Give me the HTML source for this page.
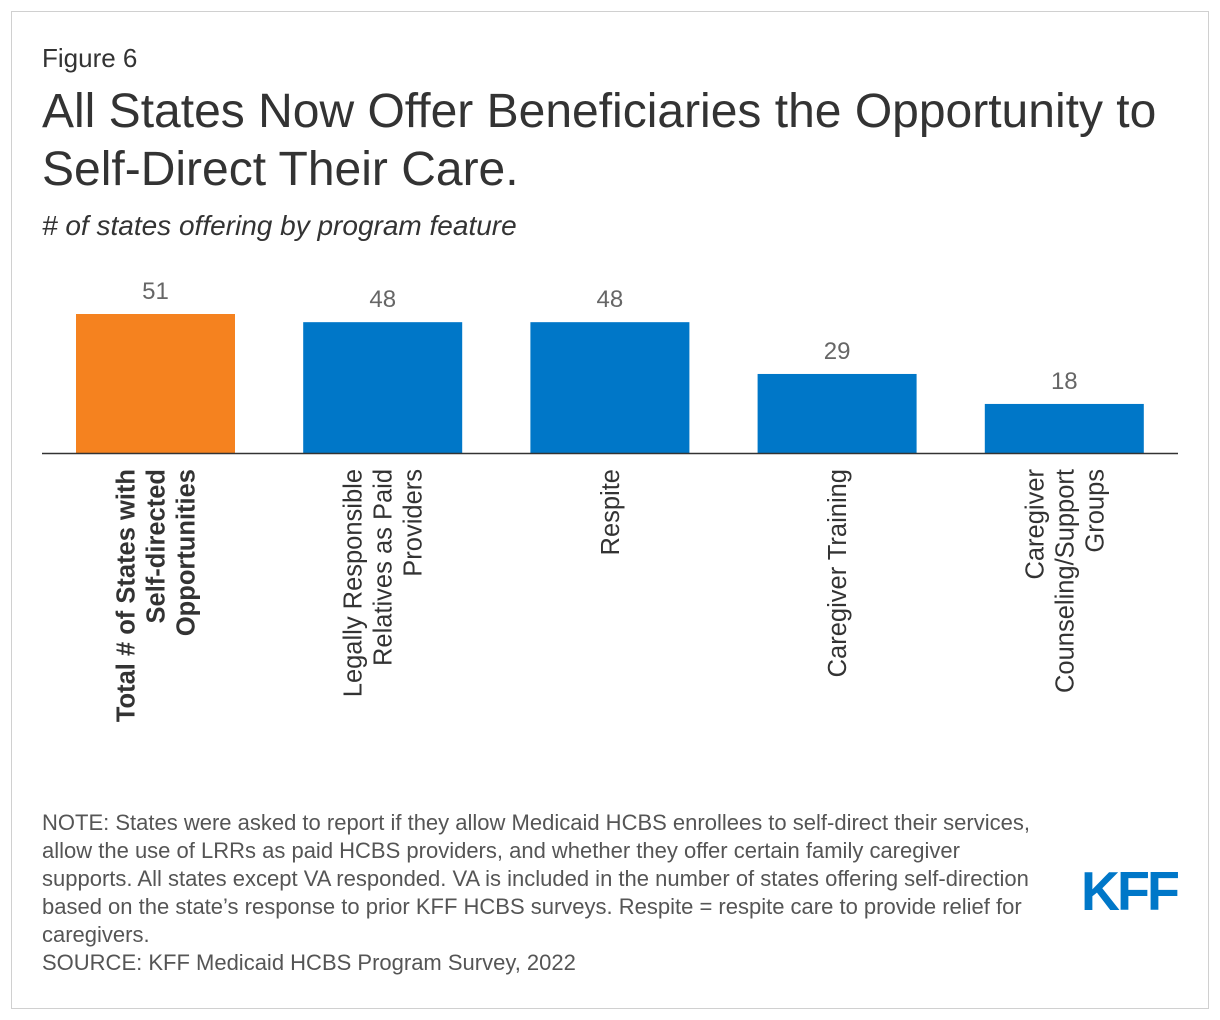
<!DOCTYPE html>
<html><head><meta charset="utf-8"><style>
body{margin:0;background:#fff;font-family:"Liberation Sans",Arial,sans-serif;}
#frame{position:absolute;left:11px;top:11px;width:1198px;height:998px;border:1px solid #d0d0d0;box-sizing:border-box;}
.t{position:absolute;left:42px;color:#333;white-space:nowrap;}
</style></head><body>
<div id="frame"></div>
<div class="t" style="top:43px;font-size:26px;">Figure 6</div>
<div class="t" style="top:83px;font-size:48px;line-height:58px;color:#333;">All States Now Offer Beneficiaries the Opportunity to<br>Self-Direct Their Care.</div>
<div class="t" style="top:210px;font-size:28px;font-style:italic;"># of states offering by program feature</div>
<svg id="chart" width="1220" height="780" style="position:absolute;left:0;top:0"></svg>
<div class="t" style="top:809px;font-size:22px;line-height:28px;color:#555;">NOTE: States were asked to report if they allow Medicaid HCBS enrollees to self-direct their services,<br>allow the use of LRRs as paid HCBS providers, and whether they offer certain family caregiver<br>supports. All states except VA responded. VA is included in the number of states offering self-direction<br>based on the state’s response to prior KFF HCBS surveys. Respite = respite care to provide relief for<br>caregivers.</div>
<div class="t" style="top:950px;font-size:22px;color:#555;">SOURCE: KFF Medicaid HCBS Program Survey, 2022</div>
<div style="position:absolute;left:1081px;top:859px;font-size:55px;font-weight:bold;color:#0077c8;letter-spacing:-3px;transform:scaleX(0.98);transform-origin:left;">KFF</div>
<script>
const categories=[["Total # of States with","Self-directed","Opportunities"],["Legally Responsible","Relatives as Paid","Providers"],["Respite"],["Caregiver Training"],["Caregiver","Counseling/Support","Groups"]];
const values=[51,48,48,29,18];
const colors=["#f5821f","#0077c8","#0077c8","#0077c8","#0077c8"];
const svg=document.getElementById('chart');
const NS='http://www.w3.org/2000/svg';
const base=453,pxPer=139/51,x0=76,step=227.2,bw=159;
const y=v=>base-v*pxPer;
const xc=i=>x0+i*step+bw/2;
values.forEach((v,i)=>{
  const r=document.createElementNS(NS,'rect');
  r.setAttribute('x',xc(i)-bw/2);r.setAttribute('y',y(v));r.setAttribute('width',bw);r.setAttribute('height',base-y(v));r.setAttribute('fill',colors[i]);
  
  
  svg.appendChild(r);
  const t=document.createElementNS(NS,'text');
  t.setAttribute('x',xc(i));t.setAttribute('y',y(v)-15);t.setAttribute('text-anchor','middle');t.setAttribute('font-size','24');t.setAttribute('fill','#666');
  t.textContent=v;
  
  
  svg.appendChild(t);
  const lines=categories[i],n=lines.length;
  lines.forEach((ln,j)=>{
    const tx=xc(i)+(j-(n-1)/2)*30+9;
    const l=document.createElementNS(NS,'text');
    l.setAttribute('transform','translate('+tx+',469) rotate(-90)');
    l.setAttribute('text-anchor','end');l.setAttribute('font-size','25.5');l.setAttribute('fill','#333');
    if(i===0)l.setAttribute('font-weight','bold');
    l.textContent=ln;
    
    
    svg.appendChild(l);
  });
});
const ax=document.createElementNS(NS,'line');
ax.setAttribute('x1',42);ax.setAttribute('x2',1178);ax.setAttribute('y1',base+0.5);ax.setAttribute('y2',base+0.5);ax.setAttribute('stroke','#333');ax.setAttribute('stroke-width','1.5');


svg.appendChild(ax);
</script>
</body></html>
